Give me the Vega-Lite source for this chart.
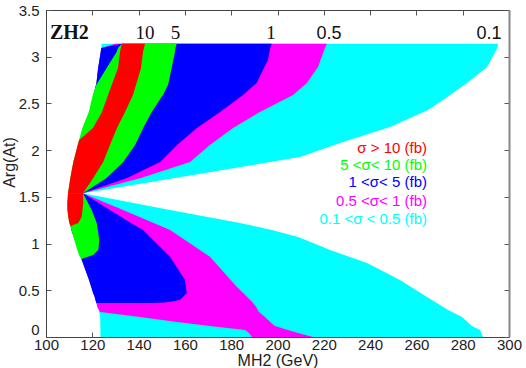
{
  "$schema": "https://vega.github.io/schema/vega-lite/v6.json",
  "width": 463,
  "height": 327,
  "autosize": {"type": "none"},
  "padding": {"left": 46, "top": 10, "right": 17, "bottom": 31},
  "background": "white",
  "view": {"stroke": null},
  "config": {
    "axis": {
      "grid": false,
      "labelFont": "Liberation Sans",
      "labelFontSize": 15,
      "labelColor": "#222",
      "titleFont": "Liberation Sans",
      "titleFontWeight": "normal",
      "titleColor": "#222",
      "domainColor": "#444",
      "tickColor": "#555",
      "tickSize": -5,
      "labelFlush": false,
      "labelOverlap": false
    }
  },
  "datasets": {
    "r": [
      {"lv": "0.1-0.5", "p": "u", "y": 3.14, "xl": 124.06, "xr": 295.25},
      {"lv": "0.1-0.5", "p": "u", "y": 3.093, "xl": 123.9, "xr": 295.0},
      {"lv": "0.1-0.5", "p": "u", "y": 2.89, "xl": 122.6, "xr": 290.5},
      {"lv": "0.1-0.5", "p": "u", "y": 2.719, "xl": 121.8, "xr": 281.86},
      {"lv": "0.1-0.5", "p": "u", "y": 2.537, "xl": 120.1, "xr": 271.49},
      {"lv": "0.1-0.5", "p": "u", "y": 2.43, "xl": 119.0, "xr": 265.0},
      {"lv": "0.1-0.5", "p": "u", "y": 2.248, "xl": 116.2, "xr": 248.6},
      {"lv": "0.1-0.5", "p": "u", "y": 2.076, "xl": 114.3, "xr": 227.0},
      {"lv": "0.1-0.5", "p": "u", "y": 1.927, "xl": 112.6, "xr": 209.7},
      {"lv": "0.1-0.5", "p": "u", "y": 1.894, "xl": 112.4, "xr": 201.9},
      {"lv": "0.1-0.5", "p": "u", "y": 1.873, "xl": 112.1, "xr": 196.8},
      {"lv": "0.1-0.5", "p": "u", "y": 1.788, "xl": 111.4, "xr": 176.5},
      {"lv": "0.1-0.5", "p": "u", "y": 1.702, "xl": 110.8, "xr": 155.7},
      {"lv": "0.1-0.5", "p": "u", "y": 1.627, "xl": 110.2, "xr": 137.6},
      {"lv": "0.1-0.5", "p": "u", "y": 1.573, "xl": 109.9, "xr": 124.6},
      {"lv": "0.1-0.5", "p": "u", "y": 1.538, "xl": 109.72, "xr": 115.85},
      {"lv": "0.1-0.5", "p": "l", "y": 1.538, "xl": 109.72, "xr": 115.85},
      {"lv": "0.1-0.5", "p": "l", "y": 1.466, "xl": 109.5, "xr": 131.1},
      {"lv": "0.1-0.5", "p": "l", "y": 1.359, "xl": 109.35, "xr": 153.56},
      {"lv": "0.1-0.5", "p": "l", "y": 1.22, "xl": 110.37, "xr": 183.8},
      {"lv": "0.1-0.5", "p": "l", "y": 1.145, "xl": 111.0, "xr": 197.6},
      {"lv": "0.1-0.5", "p": "l", "y": 1.07, "xl": 112.0, "xr": 208.9},
      {"lv": "0.1-0.5", "p": "l", "y": 0.985, "xl": 113.2, "xr": 217.5},
      {"lv": "0.1-0.5", "p": "l", "y": 0.931, "xl": 113.8, "xr": 222.7},
      {"lv": "0.1-0.5", "p": "l", "y": 0.792, "xl": 115.8, "xr": 238.7},
      {"lv": "0.1-0.5", "p": "l", "y": 0.61, "xl": 118.6, "xr": 252.9},
      {"lv": "0.1-0.5", "p": "l", "y": 0.428, "xl": 121.1, "xr": 264.6},
      {"lv": "0.1-0.5", "p": "l", "y": 0.289, "xl": 122.8, "xr": 273.7},
      {"lv": "0.1-0.5", "p": "l", "y": 0.214, "xl": 123.4, "xr": 279.7},
      {"lv": "0.1-0.5", "p": "l", "y": 0.118, "xl": 123.5, "xr": 284.0},
      {"lv": "0.1-0.5", "p": "l", "y": 0.075, "xl": 123.5, "xr": 287.5},
      {"lv": "0.1-0.5", "p": "l", "y": 0, "xl": 123.54, "xr": 288.8},

      {"lv": "0.5-1", "p": "u", "y": 3.14, "xl": 130.0, "xr": 221.3},
      {"lv": "0.5-1", "p": "u", "y": 3.093, "xl": 123.9, "xr": 220.5},
      {"lv": "0.5-1", "p": "u", "y": 2.89, "xl": 122.6, "xr": 217.5},
      {"lv": "0.5-1", "p": "u", "y": 2.719, "xl": 121.8, "xr": 212.7},
      {"lv": "0.5-1", "p": "u", "y": 2.59, "xl": 120.52, "xr": 206.7},
      {"lv": "0.5-1", "p": "u", "y": 2.408, "xl": 118.8, "xr": 192.4},
      {"lv": "0.5-1", "p": "u", "y": 2.237, "xl": 115.98, "xr": 180.8},
      {"lv": "0.5-1", "p": "u", "y": 2.055, "xl": 114.0, "xr": 170.8},
      {"lv": "0.5-1", "p": "u", "y": 1.873, "xl": 112.1, "xr": 162.2},
      {"lv": "0.5-1", "p": "u", "y": 1.702, "xl": 110.8, "xr": 141.0},
      {"lv": "0.5-1", "p": "u", "y": 1.538, "xl": 109.72, "xr": 115.85},
      {"lv": "0.5-1", "p": "l", "y": 1.538, "xl": 109.72, "xr": 115.85},
      {"lv": "0.5-1", "p": "l", "y": 1.466, "xl": 109.5, "xr": 122.9},
      {"lv": "0.5-1", "p": "l", "y": 1.359, "xl": 109.35, "xr": 133.3},
      {"lv": "0.5-1", "p": "l", "y": 1.145, "xl": 111.0, "xr": 153.6},
      {"lv": "0.5-1", "p": "l", "y": 0.859, "xl": 114.99, "xr": 170.8},
      {"lv": "0.5-1", "p": "l", "y": 0.538, "xl": 119.6, "xr": 182.4},
      {"lv": "0.5-1", "p": "l", "y": 0.378, "xl": 121.6, "xr": 189.0},
      {"lv": "0.5-1", "p": "l", "y": 0.321, "xl": 122.16, "xr": 190.8},
      {"lv": "0.5-1", "p": "l", "y": 0.268, "xl": 123.33, "xr": 192.0},
      {"lv": "0.5-1", "p": "l", "y": 0.214, "xl": 140.6, "xr": 194.6},
      {"lv": "0.5-1", "p": "l", "y": 0.161, "xl": 156.6, "xr": 196.8},
      {"lv": "0.5-1", "p": "l", "y": 0.118, "xl": 170.8, "xr": 198.9},
      {"lv": "0.5-1", "p": "l", "y": 0.075, "xl": 186.0, "xr": 204.5},
      {"lv": "0.5-1", "p": "l", "y": 0.043, "xl": 187.7, "xr": 208.9},
      {"lv": "0.5-1", "p": "l", "y": 0, "xl": 189.0, "xr": 215.3},

      {"lv": "1-5", "p": "u", "y": 3.14, "xl": 132.7, "xr": 197.5},
      {"lv": "1-5", "p": "u", "y": 3.093, "xl": 123.9, "xr": 196.8},
      {"lv": "1-5", "p": "u", "y": 2.965, "xl": 123.1, "xr": 195.9},
      {"lv": "1-5", "p": "u", "y": 2.858, "xl": 122.4, "xr": 193.7},
      {"lv": "1-5", "p": "u", "y": 2.719, "xl": 121.8, "xr": 191.0},
      {"lv": "1-5", "p": "u", "y": 2.59, "xl": 120.52, "xr": 185.1},
      {"lv": "1-5", "p": "u", "y": 2.408, "xl": 118.8, "xr": 175.2},
      {"lv": "1-5", "p": "u", "y": 2.237, "xl": 115.98, "xr": 165.2},
      {"lv": "1-5", "p": "u", "y": 2.055, "xl": 114.0, "xr": 156.6},
      {"lv": "1-5", "p": "u", "y": 1.873, "xl": 112.1, "xr": 149.3},
      {"lv": "1-5", "p": "u", "y": 1.702, "xl": 110.8, "xr": 135.0},
      {"lv": "1-5", "p": "u", "y": 1.538, "xl": 109.72, "xr": 115.85},
      {"lv": "1-5", "p": "l", "y": 1.538, "xl": 109.72, "xr": 115.98},
      {"lv": "1-5", "p": "l", "y": 1.466, "xl": 109.5, "xr": 120.7},
      {"lv": "1-5", "p": "l", "y": 1.359, "xl": 109.35, "xr": 127.65},
      {"lv": "1-5", "p": "l", "y": 1.22, "xl": 110.37, "xr": 136.7},
      {"lv": "1-5", "p": "l", "y": 1.145, "xl": 111.0, "xr": 141.9},
      {"lv": "1-5", "p": "l", "y": 0.859, "xl": 114.99, "xr": 153.56},
      {"lv": "1-5", "p": "l", "y": 0.61, "xl": 118.6, "xr": 160.04},
      {"lv": "1-5", "p": "l", "y": 0.471, "xl": 120.3, "xr": 160.8},
      {"lv": "1-5", "p": "l", "y": 0.428, "xl": 121.1, "xr": 159.2},
      {"lv": "1-5", "p": "l", "y": 0.4, "xl": 121.3, "xr": 157.9},
      {"lv": "1-5", "p": "l", "y": 0.385, "xl": 121.5, "xr": 155.7},
      {"lv": "1-5", "p": "l", "y": 0.37, "xl": 121.65, "xr": 151.4},
      {"lv": "1-5", "p": "l", "y": 0.364, "xl": 121.7, "xr": 144.9},
      {"lv": "1-5", "p": "l", "y": 0.3635, "xl": 121.7, "xr": 121.8},

      {"lv": "5-10", "p": "u", "y": 3.14, "xl": 132.7, "xr": 156.5},
      {"lv": "5-10", "p": "u", "y": 3.093, "xl": 131.1, "xr": 155.9},
      {"lv": "5-10", "p": "u", "y": 3.05, "xl": 130.5, "xr": 155.7},
      {"lv": "5-10", "p": "u", "y": 2.879, "xl": 126.2, "xr": 154.3},
      {"lv": "5-10", "p": "u", "y": 2.697, "xl": 121.7, "xr": 152.7},
      {"lv": "5-10", "p": "u", "y": 2.59, "xl": 120.2, "xr": 150.5},
      {"lv": "5-10", "p": "u", "y": 2.408, "xl": 118.5, "xr": 145.7},
      {"lv": "5-10", "p": "u", "y": 2.237, "xl": 115.7, "xr": 142.0},
      {"lv": "5-10", "p": "u", "y": 2.055, "xl": 113.7, "xr": 138.5},
      {"lv": "5-10", "p": "u", "y": 1.873, "xl": 111.8, "xr": 133.4},
      {"lv": "5-10", "p": "u", "y": 1.702, "xl": 110.5, "xr": 126.2},
      {"lv": "5-10", "p": "u", "y": 1.538, "xl": 109.5, "xr": 115.98},
      {"lv": "5-10", "p": "l", "y": 1.538, "xl": 109.5, "xr": 115.98},
      {"lv": "5-10", "p": "l", "y": 1.359, "xl": 109.1, "xr": 119.74},
      {"lv": "5-10", "p": "l", "y": 1.22, "xl": 110.1, "xr": 121.9},
      {"lv": "5-10", "p": "l", "y": 1.038, "xl": 112.25, "xr": 123.02},
      {"lv": "5-10", "p": "l", "y": 0.931, "xl": 113.5, "xr": 122.59},
      {"lv": "5-10", "p": "l", "y": 0.878, "xl": 114.3, "xr": 120.43},
      {"lv": "5-10", "p": "l", "y": 0.846, "xl": 115.0, "xr": 116.5},
      {"lv": "5-10", "p": "l", "y": 0.835, "xl": 115.3, "xr": 115.5},

      {"lv": ">10", "p": "u", "y": 3.14, "xl": 132.7, "xr": 142.76},
      {"lv": ">10", "p": "u", "y": 3.05, "xl": 131.97, "xr": 141.9},
      {"lv": ">10", "p": "u", "y": 2.879, "xl": 131.1, "xr": 141.04},
      {"lv": ">10", "p": "u", "y": 2.59, "xl": 126.78, "xr": 137.58},
      {"lv": ">10", "p": "u", "y": 2.408, "xl": 124.19, "xr": 134.13},
      {"lv": ">10", "p": "u", "y": 2.237, "xl": 120.3, "xr": 130.67},
      {"lv": ">10", "p": "u", "y": 2.109, "xl": 114.3, "xr": 128.5},
      {"lv": ">10", "p": "u", "y": 2.055, "xl": 113.7, "xr": 127.65},
      {"lv": ">10", "p": "u", "y": 1.873, "xl": 111.8, "xr": 124.7},
      {"lv": ">10", "p": "u", "y": 1.702, "xl": 110.5, "xr": 120.4},
      {"lv": ">10", "p": "u", "y": 1.538, "xl": 109.5, "xr": 115.98},
      {"lv": ">10", "p": "l", "y": 1.538, "xl": 109.5, "xr": 115.98},
      {"lv": ">10", "p": "l", "y": 1.434, "xl": 109.2, "xr": 116.1},
      {"lv": ">10", "p": "l", "y": 1.284, "xl": 109.6, "xr": 115.4},
      {"lv": ">10", "p": "l", "y": 1.22, "xl": 110.1, "xr": 113.95},
      {"lv": ">10", "p": "l", "y": 1.199, "xl": 110.4, "xr": 111.8},
      {"lv": ">10", "p": "l", "y": 1.188, "xl": 110.8, "xr": 111.0}
    ],
    "t": [
      {"s": "ZH2", "k": "z", "x": 101.7, "y": 3.186},
      {"s": "10", "k": "s", "x": 142.8, "y": 3.186},
      {"s": "5", "k": "s", "x": 155.9, "y": 3.186},
      {"s": "1", "k": "s", "x": 197.2, "y": 3.186},
      {"s": "0.5", "k": "a", "x": 222.3, "y": 3.186},
      {"s": "0.1", "k": "a", "x": 291.4, "y": 3.186}
    ],
    "g": [
      {"s": "σ  > 10 (fb)", "lv": ">10", "x": 264.6, "y": 1.973},
      {"s": "5 <σ< 10 (fb)", "lv": "5-10", "x": 264.6, "y": 1.788},
      {"s": "1 <σ< 5 (fb)", "lv": "1-5", "x": 264.6, "y": 1.602},
      {"s": "0.5 <σ< 1  (fb)", "lv": "0.5-1", "x": 264.6, "y": 1.405},
      {"s": "0.1 <σ < 0.5 (fb)", "lv": "0.1-0.5", "x": 264.6, "y": 1.209}
    ]
  },
  "resolve": {"axis": {"x": "independent", "y": "independent"}},
  "layer": [
    {
      "data": {"name": "r"},
      "transform": [{"filter": "datum.lv == '0.1-0.5'"}],
      "mark": {"type": "area", "orient": "horizontal"},
      "encoding": {
        "y": {"field": "y", "type": "quantitative", "scale": {"domain": [0, 3.5], "nice": false, "zero": false},
          "axis": {"orient": "left", "values": [0, 0.5, 1, 1.5, 2, 2.5, 3, 3.5], "format": "~g", "labelPadding": 12,
            "labelBaseline": {"condition": {"test": "datum.value == 0", "value": "bottom"}, "value": "middle"},
            "title": "Arg(At)", "titleFontSize": 16, "titleX": -37, "titleY": 152, "titleAngle": 270, "titleAlign": "center", "titleBaseline": "middle"}},
        "x": {"field": "xl", "type": "quantitative", "scale": {"domain": [100, 300], "nice": false, "zero": false},
          "axis": {"orient": "bottom", "values": [100, 120, 140, 160, 180, 200, 220, 240, 260, 280, 300], "format": "d", "labelPadding": 5,
            "title": "MH2 (GeV)", "titleFontSize": 16, "titleY": 28, "titleBaseline": "alphabetic"}},
        "x2": {"field": "xr"},
        "detail": {"field": "p"},
        "color": {"field": "lv", "type": "nominal", "legend": null,
          "scale": {"domain": [">10", "5-10", "1-5", "0.5-1", "0.1-0.5"], "range": ["#ff0000", "#00ff00", "#0000ff", "#ff00ff", "#00ffff"]}}
      }
    },
    {
      "data": {"name": "r"},
      "transform": [{"filter": "datum.lv == '0.5-1'"}],
      "mark": {"type": "area", "orient": "horizontal"},
      "encoding": {
        "y": {"field": "y", "type": "quantitative", "axis": {"orient": "right", "values": [0, 0.5, 1, 1.5, 2, 2.5, 3, 3.5], "labels": false, "title": null, "domainColor": "#888", "domainWidth": 2}},
        "x": {"field": "xl", "type": "quantitative", "axis": {"orient": "top", "values": [100, 120, 140, 160, 180, 200, 220, 240, 260, 280, 300], "labels": false, "title": null}},
        "x2": {"field": "xr"},
        "detail": {"field": "p"},
        "color": {"field": "lv", "type": "nominal", "legend": null}
      }
    },
    {
      "data": {"name": "r"},
      "transform": [{"filter": "datum.lv == '1-5'"}],
      "mark": {"type": "area", "orient": "horizontal"},
      "encoding": {
        "y": {"field": "y", "type": "quantitative", "axis": null},
        "x": {"field": "xl", "type": "quantitative", "axis": null},
        "x2": {"field": "xr"},
        "detail": {"field": "p"},
        "color": {"field": "lv", "type": "nominal", "legend": null}
      }
    },
    {
      "data": {"name": "r"},
      "transform": [{"filter": "datum.lv == '5-10'"}],
      "mark": {"type": "area", "orient": "horizontal"},
      "encoding": {
        "y": {"field": "y", "type": "quantitative", "axis": null},
        "x": {"field": "xl", "type": "quantitative", "axis": null},
        "x2": {"field": "xr"},
        "detail": {"field": "p"},
        "color": {"field": "lv", "type": "nominal", "legend": null}
      }
    },
    {
      "data": {"name": "r"},
      "transform": [{"filter": "datum.lv == '>10'"}],
      "mark": {"type": "area", "orient": "horizontal"},
      "encoding": {
        "y": {"field": "y", "type": "quantitative", "axis": null},
        "x": {"field": "xl", "type": "quantitative", "axis": null},
        "x2": {"field": "xr"},
        "detail": {"field": "p"},
        "color": {"field": "lv", "type": "nominal", "legend": null}
      }
    },
    {
      "data": {"name": "t"},
      "transform": [{"filter": "datum.k == 'z'"}],
      "mark": {"type": "text", "align": "left", "baseline": "alphabetic", "font": "Liberation Serif", "fontWeight": "bold", "fontSize": 20, "color": "#111"},
      "encoding": {
        "y": {"field": "y", "type": "quantitative", "axis": null},
        "x": {"field": "x", "type": "quantitative", "axis": null},
        "text": {"field": "s"}
      }
    },
    {
      "data": {"name": "t"},
      "transform": [{"filter": "datum.k == 's'"}],
      "mark": {"type": "text", "align": "center", "baseline": "alphabetic", "font": "Liberation Serif", "fontSize": 19, "color": "#111"},
      "encoding": {
        "y": {"field": "y", "type": "quantitative", "axis": null},
        "x": {"field": "x", "type": "quantitative", "axis": null},
        "text": {"field": "s"}
      }
    },
    {
      "data": {"name": "t"},
      "transform": [{"filter": "datum.k == 'a'"}],
      "mark": {"type": "text", "align": "center", "baseline": "alphabetic", "font": "Liberation Sans", "fontSize": 18, "color": "#111"},
      "encoding": {
        "y": {"field": "y", "type": "quantitative", "axis": null},
        "x": {"field": "x", "type": "quantitative", "axis": null},
        "text": {"field": "s"}
      }
    },
    {
      "data": {"name": "g"},
      "mark": {"type": "text", "align": "right", "baseline": "alphabetic", "font": "Liberation Sans", "fontSize": 15},
      "encoding": {
        "y": {"field": "y", "type": "quantitative", "axis": null},
        "x": {"field": "x", "type": "quantitative", "axis": null},
        "text": {"field": "s"},
        "color": {"field": "lv", "type": "nominal", "legend": null}
      }
    }
  ]
}
